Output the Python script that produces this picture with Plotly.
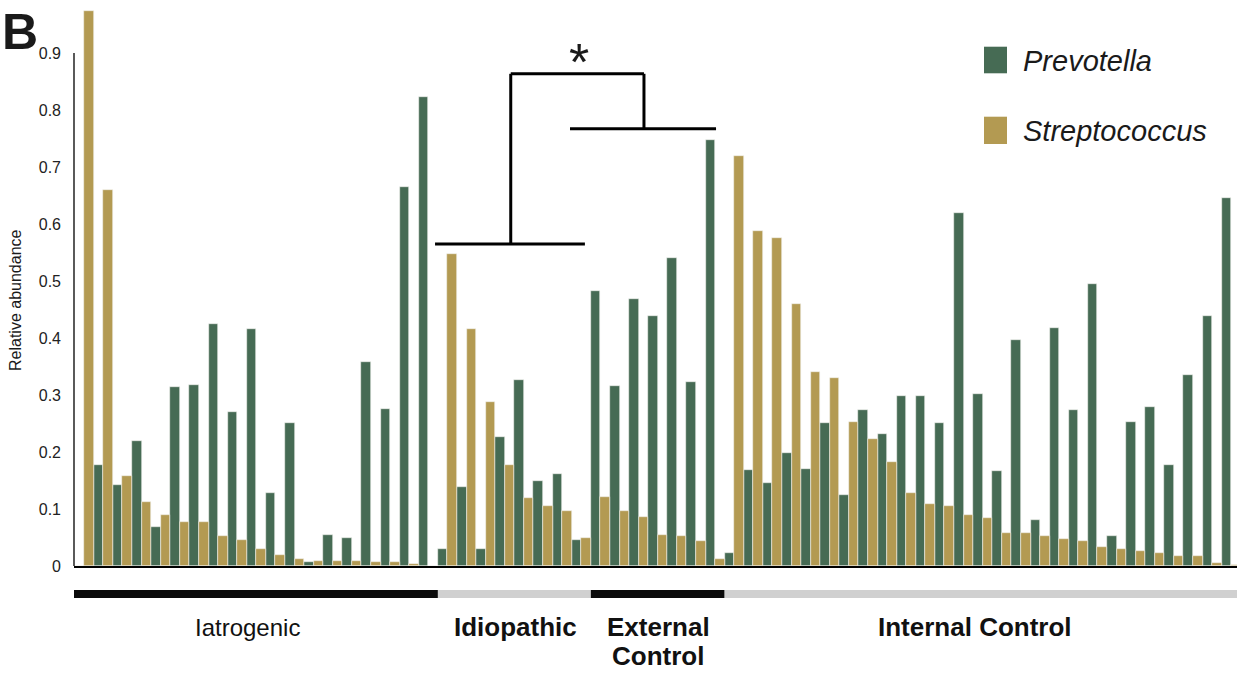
import plotly.graph_objects as go

# ---------------- data ----------------
groups = ["Iatrogenic", "Idiopathic", "External Control", "Internal Control"]
group_sizes = [19, 8, 7, 27]

prevotella_iatrogenic = [0.0, 0.177, 0.142, 0.220, 0.068, 0.314, 0.317, 0.424, 0.271, 0.416,
                         0.128, 0.251, 0.007, 0.054, 0.050, 0.358, 0.275, 0.665, 0.823]
strepto_iatrogenic = [0.974, 0.659, 0.158, 0.113, 0.089, 0.078, 0.077, 0.052, 0.046, 0.030,
                      0.020, 0.013, 0.009, 0.009, 0.008, 0.007, 0.007, 0.004, 0.0]

prevotella_idiopathic = [0.029, 0.138, 0.029, 0.227, 0.326, 0.150, 0.162, 0.046]
strepto_idiopathic = [0.547, 0.416, 0.288, 0.177, 0.120, 0.105, 0.097, 0.049]

prevotella_external = [0.483, 0.316, 0.469, 0.439, 0.541, 0.322, 0.747]
strepto_external = [0.121, 0.096, 0.086, 0.054, 0.053, 0.044, 0.013]

prevotella_internal = [0.022, 0.169, 0.146, 0.198, 0.170, 0.251, 0.125, 0.273, 0.232, 0.299,
                       0.298, 0.251, 0.620, 0.301, 0.166, 0.397, 0.080, 0.417, 0.274, 0.495,
                       0.053, 0.253, 0.279, 0.178, 0.335, 0.438, 0.646]
strepto_internal = [0.719, 0.588, 0.576, 0.460, 0.340, 0.329, 0.253, 0.222, 0.182, 0.128,
                    0.109, 0.106, 0.089, 0.085, 0.058, 0.058, 0.053, 0.047, 0.043, 0.034,
                    0.029, 0.027, 0.023, 0.018, 0.018, 0.006, 0.002]

y_ticks = [0, 0.1, 0.2, 0.3, 0.4, 0.5, 0.6, 0.7, 0.8, 0.9]
y_tick_labels = ["0", "0.1", "0.2", "0.3", "0.4", "0.5", "0.6", "0.7", "0.8", "0.9"]

prevotella = prevotella_iatrogenic + prevotella_idiopathic + prevotella_external + prevotella_internal
streptococcus = strepto_iatrogenic + strepto_idiopathic + strepto_external + strepto_internal
samples = list(range(len(prevotella)))

# ---------------- style ----------------
GREEN = "#466b54"
TAN = "#b39a52"
W, H = 1237, 673
ML, MR, MT, MB = 74, 0, 8, 107
PW, PH = W - ML - MR, H - MT - MB
CAT_PX = 19.116
x_lo = -0.5 - (74.7 - ML) / CAT_PX
x_hi = x_lo + PW / CAT_PX
y_top = PH / 570.0

def px(xp):
    return (xp - ML) / PW

def py(yp):
    return (H - MB - yp) / PH

SANS = "Liberation Sans, Arial, sans-serif"

fig = go.Figure()
fig.add_trace(go.Bar(x=samples, y=prevotella, name="Prevotella", marker_color=GREEN,
                     marker_line=dict(color="#f4f4ee", width=0.6), showlegend=False))
fig.add_trace(go.Bar(x=samples, y=streptococcus, name="Streptococcus", marker_color=TAN,
                     marker_line=dict(color="#f4f4ee", width=0.6), showlegend=False))

shapes = []
# y axis line (only up to 0.9)
shapes.append(dict(type="line", xref="paper", yref="y", x0=0, x1=0, y0=0, y1=0.9,
                   line=dict(color="black", width=1.3)))
# significance bracket
bl = dict(color="black", width=3)
shapes += [
    dict(type="line", xref="x", yref="y", x0=18.35, x1=26.19, y0=0.565, y1=0.565, line=bl),
    dict(type="line", xref="x", yref="y", x0=22.31, x1=22.31, y0=0.565, y1=0.8635, line=bl),
    dict(type="line", xref="x", yref="y", x0=22.31, x1=29.28, y0=0.8635, y1=0.8635, line=bl),
    dict(type="line", xref="x", yref="y", x0=29.28, x1=29.28, y0=0.8635, y1=0.767, line=bl),
    dict(type="line", xref="x", yref="y", x0=25.41, x1=33.05, y0=0.767, y1=0.767, line=bl),
]
# group bars under the axis
group_colors = ["#0a0a0a", "#d0d0d0", "#0a0a0a", "#d0d0d0"]
start = -0.5
for gsize, gcol in zip(group_sizes, group_colors):
    x0 = start if start > -0.5 else x_lo - 0.05
    shapes.append(dict(type="rect", xref="x", yref="paper", x0=x0, x1=start + gsize,
                       y0=py(598), y1=py(590), line=dict(width=0), fillcolor=gcol, layer="above"))
    start += gsize
# legend squares
shapes.append(dict(type="rect", xref="paper", yref="paper", x0=px(984), x1=px(1007),
                   y0=py(73.3), y1=py(46.7), line=dict(width=0), fillcolor=GREEN))
shapes.append(dict(type="rect", xref="paper", yref="paper", x0=px(984), x1=px(1007),
                   y0=py(144), y1=py(116.7), line=dict(width=0), fillcolor=TAN))

annotations = [
    dict(text="<i>Prevotella</i>", xref="paper", yref="paper", x=px(1021), y=py(61),
         xanchor="left", yanchor="middle", showarrow=False,
         font=dict(family=SANS, size=29, color="#1a1a1a")),
    dict(text="<i>Streptococcus</i>", xref="paper", yref="paper", x=px(1021), y=py(131),
         xanchor="left", yanchor="middle", showarrow=False,
         font=dict(family=SANS, size=29, color="#1a1a1a")),
    dict(text="*", xref="x", yref="paper", x=25.9, y=py(62), xanchor="center",
         yanchor="middle", showarrow=False, font=dict(family=SANS, size=52, color="#1a1a1a")),
    dict(text="<b>B</b>", xref="paper", yref="paper", x=px(20), y=py(32), xanchor="center",
         yanchor="middle", showarrow=False, font=dict(family=SANS, size=50, color="#1a1a1a")),
    dict(text="Relative abundance", xref="paper", yref="paper", x=px(15), y=py(300),
         xanchor="center", yanchor="middle", textangle=-90, showarrow=False,
         font=dict(family=SANS, size=16, color="#1a1a1a")),
]
label_specs = [
    ("Iatrogenic", 247, 627, False, 24),
    ("Idiopathic", 515.5, 627, True, 26),
    ("External", 658, 627, True, 26),
    ("Control", 658, 656, True, 26),
    ("Internal Control", 975, 627, True, 26),
]
for txt, xx, yy, bold, sz in label_specs:
    annotations.append(dict(text=f"<b>{txt}</b>" if bold else txt, xref="paper", yref="paper",
                            x=px(xx), y=py(yy), xanchor="center", yanchor="middle",
                            showarrow=False, font=dict(family=SANS, size=sz, color="#111111")))

fig.update_layout(
    width=W, height=H, autosize=False,
    margin=dict(l=ML, r=MR, t=MT, b=MB, pad=0),
    paper_bgcolor="white", plot_bgcolor="white",
    barmode="group", bargap=0, bargroupgap=0,
    shapes=shapes, annotations=annotations,
    xaxis=dict(range=[x_lo, x_hi], showticklabels=False, ticks="", showgrid=False,
               zeroline=False, showline=True, linecolor="black", linewidth=2.2),
    yaxis=dict(range=[0, y_top], tickmode="array", tickvals=y_ticks, ticktext=y_tick_labels,
               ticks="", showgrid=False, zeroline=False, showline=False,
               ticklabelstandoff=12, tickfont=dict(family=SANS, size=16, color="#222222")),
)

fig.write_html("out.html", config={"displayModeBar": False},
               post_script="document.body.style.margin='0';")
